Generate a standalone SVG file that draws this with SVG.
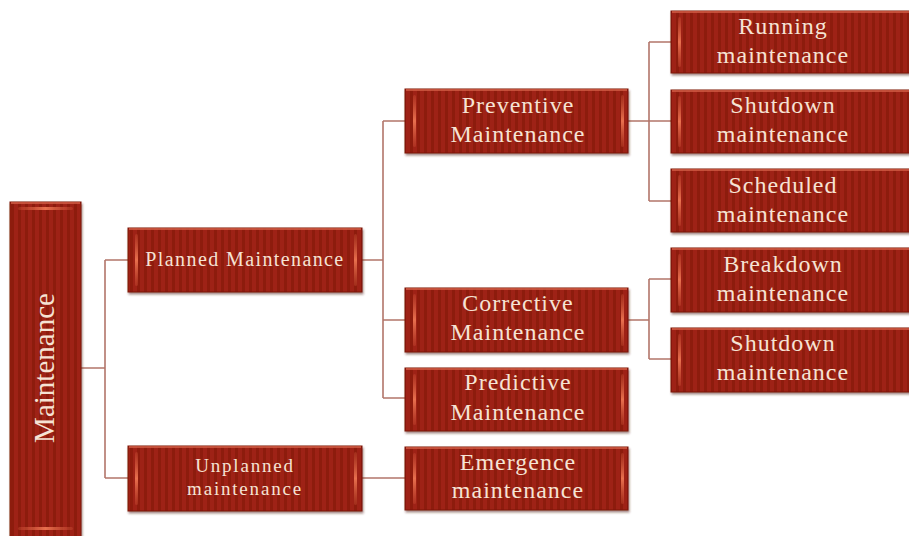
<svg xmlns="http://www.w3.org/2000/svg" width="909" height="536" viewBox="0 0 909 536">
<defs>
<pattern id="stripes" patternUnits="userSpaceOnUse" width="7" height="10">
<rect width="7" height="10" fill="#9e2213"/>
<rect x="4" width="3" height="10" fill="#8d1a0c"/>
</pattern>
<linearGradient id="barV" x1="0" y1="0" x2="0" y2="1">
<stop offset="0" stop-color="#d2553a" stop-opacity="0.3"/>
<stop offset="0.5" stop-color="#e8704e"/>
<stop offset="1" stop-color="#d2553a" stop-opacity="0.3"/>
</linearGradient>
<linearGradient id="barH" x1="0" y1="0" x2="1" y2="0">
<stop offset="0" stop-color="#d2553a" stop-opacity="0.3"/>
<stop offset="0.5" stop-color="#e8704e"/>
<stop offset="1" stop-color="#d2553a" stop-opacity="0.3"/>
</linearGradient>
<filter id="sh" x="-5%" y="-5%" width="110%" height="120%">
<feDropShadow dx="1" dy="2" stdDeviation="1.2" flood-color="#5a2a20" flood-opacity="0.55"/>
</filter>
</defs>
<style>
.box{fill:url(#stripes);stroke:#7c1609;stroke-width:1;filter:url(#sh)}
.top{stroke:#d46048;stroke-width:1.5;fill:none}
.lbar{fill:url(#barV)}
.hbar{fill:url(#barH)}
.t{font-family:"Liberation Serif","DejaVu Serif",serif;fill:#f6e3d4;text-anchor:middle}
.t23{font-size:24px;letter-spacing:1px}
.conn{stroke:#b2756a;stroke-width:1.6;fill:none}
</style>

<g id="connectors">
<path class="conn" d="M81 368 H105 M105 260 V478 M105 260 H128 M105 478 H128"/>
<path class="conn" d="M362 260 H383 M383 121 V398 M383 121 H405 M383 320 H405 M383 398 H405"/>
<path class="conn" d="M362 478 H405"/>
<path class="conn" d="M628 121 H649 M649 42 V201 M649 42 H671 M649 121 H671 M649 201 H671"/>
<path class="conn" d="M628 320 H649 M649 279 V359 M649 279 H671 M649 359 H671"/>
</g>

<g id="n-maintenance">
<rect class="box" x="10" y="202" width="71" height="340"/>
<line class="top" x1="11" y1="203" x2="80" y2="203"/>
<rect class="hbar" x="18" y="207" width="55" height="3" rx="1.5"/>
<rect class="hbar" x="18" y="527" width="55" height="3" rx="1.5"/>
<text class="t" transform="translate(54 368) rotate(-90)" font-size="29">Maintenance</text>
</g>

<g id="n-planned">
<rect class="box" x="128" y="228" width="234" height="64"/>
<line class="top" x1="129" y1="229" x2="361" y2="229"/>
<rect class="lbar" x="135" y="234" width="3" height="52" rx="1.5"/>
<rect class="lbar" x="354" y="234" width="3" height="52" rx="1.5"/>
<text class="t" x="245" y="266" font-size="20" letter-spacing="1.4">Planned Maintenance</text>
</g>

<g id="n-unplanned">
<rect class="box" x="128" y="446" width="234" height="65"/>
<line class="top" x1="129" y1="447" x2="361" y2="447"/>
<rect class="lbar" x="135" y="452" width="3" height="53" rx="1.5"/>
<rect class="lbar" x="354" y="452" width="3" height="53" rx="1.5"/>
<text class="t" x="245" y="472" font-size="19" letter-spacing="1.8">Unplanned</text>
<text class="t" x="245" y="495" font-size="19" letter-spacing="1.8">maintenance</text>
</g>

<g id="n-preventive">
<rect class="box" x="405" y="89" width="223" height="64"/>
<line class="top" x1="406" y1="90" x2="627" y2="90"/>
<rect class="lbar" x="413" y="95" width="3" height="52" rx="1.5"/>
<rect class="lbar" x="621" y="95" width="3" height="52" rx="1.5"/>
<text class="t t23" x="518" y="113">Preventive</text>
<text class="t t23" x="518" y="142">Maintenance</text>
</g>

<g id="n-corrective">
<rect class="box" x="405" y="288" width="223" height="64"/>
<line class="top" x1="406" y1="289" x2="627" y2="289"/>
<rect class="lbar" x="413" y="294" width="3" height="52" rx="1.5"/>
<rect class="lbar" x="621" y="294" width="3" height="52" rx="1.5"/>
<text class="t t23" x="518" y="311">Corrective</text>
<text class="t t23" x="518" y="340">Maintenance</text>
</g>

<g id="n-predictive">
<rect class="box" x="405" y="368" width="223" height="63"/>
<line class="top" x1="406" y1="369" x2="627" y2="369"/>
<rect class="lbar" x="413" y="374" width="3" height="51" rx="1.5"/>
<rect class="lbar" x="621" y="374" width="3" height="51" rx="1.5"/>
<text class="t t23" x="518" y="390">Predictive</text>
<text class="t t23" x="518" y="420">Maintenance</text>
</g>

<g id="n-emergence">
<rect class="box" x="405" y="447" width="223" height="63"/>
<line class="top" x1="406" y1="448" x2="627" y2="448"/>
<rect class="lbar" x="413" y="453" width="3" height="51" rx="1.5"/>
<rect class="lbar" x="621" y="453" width="3" height="51" rx="1.5"/>
<text class="t t23" x="518" y="470">Emergence</text>
<text class="t t23" x="518" y="498">maintenance</text>
</g>

<g id="n-running">
<rect class="box" x="671" y="11" width="245" height="62"/>
<line class="top" x1="672" y1="12" x2="909" y2="12"/>
<rect class="lbar" x="678" y="17" width="3" height="50" rx="1.5"/>
<text class="t t23" x="783" y="34">Running</text>
<text class="t t23" x="783" y="63">maintenance</text>
</g>

<g id="n-shutdown1">
<rect class="box" x="671" y="90" width="245" height="63"/>
<line class="top" x1="672" y1="91" x2="909" y2="91"/>
<rect class="lbar" x="678" y="96" width="3" height="51" rx="1.5"/>
<text class="t t23" x="783" y="113">Shutdown</text>
<text class="t t23" x="783" y="142">maintenance</text>
</g>

<g id="n-scheduled">
<rect class="box" x="671" y="169" width="245" height="63"/>
<line class="top" x1="672" y1="170" x2="909" y2="170"/>
<rect class="lbar" x="678" y="175" width="3" height="51" rx="1.5"/>
<text class="t t23" x="783" y="193">Scheduled</text>
<text class="t t23" x="783" y="222">maintenance</text>
</g>

<g id="n-breakdown">
<rect class="box" x="671" y="248" width="245" height="64"/>
<line class="top" x1="672" y1="249" x2="909" y2="249"/>
<rect class="lbar" x="678" y="254" width="3" height="52" rx="1.5"/>
<text class="t t23" x="783" y="272">Breakdown</text>
<text class="t t23" x="783" y="301">maintenance</text>
</g>

<g id="n-shutdown2">
<rect class="box" x="671" y="328" width="245" height="64"/>
<line class="top" x1="672" y1="329" x2="909" y2="329"/>
<rect class="lbar" x="678" y="334" width="3" height="52" rx="1.5"/>
<text class="t t23" x="783" y="351">Shutdown</text>
<text class="t t23" x="783" y="380">maintenance</text>
</g>
</svg>
